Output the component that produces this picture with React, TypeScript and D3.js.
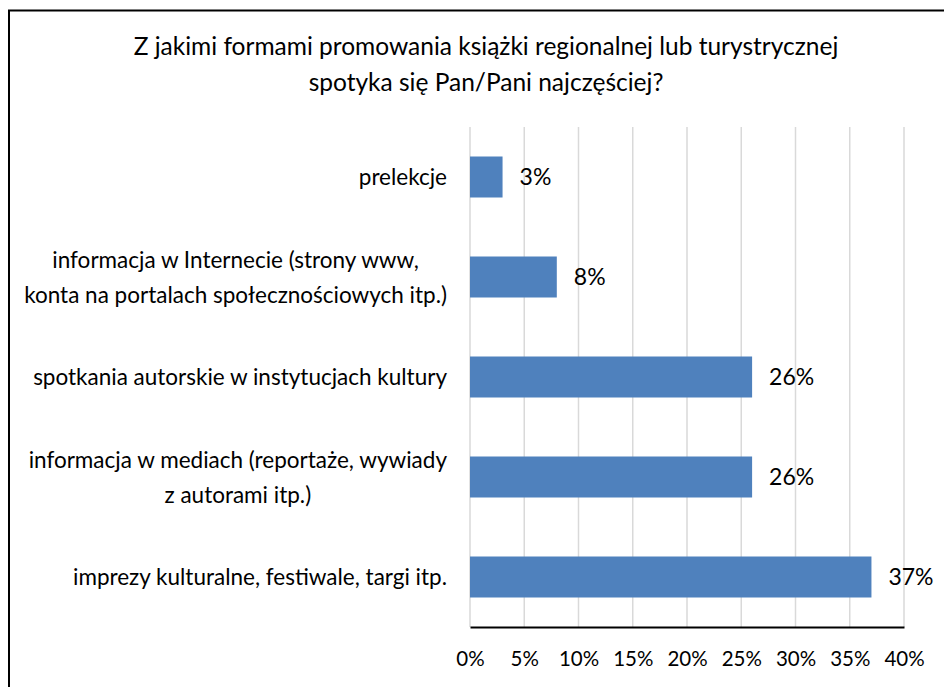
import React, { useEffect, useRef } from 'react';
import * as d3 from 'd3';

const categories = [
  ['prelekcje'],
  ['informacja w Internecie (strony www,', 'konta na portalach społecznościowych itp.)'],
  ['spotkania autorskie w instytucjach kultury'],
  ['informacja w mediach (reportaże, wywiady', 'z autorami itp.)'],
  ['imprezy kulturalne, festiwale, targi itp.']
];
const values = [3, 8, 26, 26, 37];
const ticks = [0, 5, 10, 15, 20, 25, 30, 35, 40];
const titleLines = [
  'Z jakimi formami promowania książki regionalnej lub turystrycznej',
  'spotyka się Pan/Pani najczęściej?'
];

const W = 944;
const H = 687;
const FONT = 'Lato, "Open Sans", sans-serif';

const App = () => {
  const svgRef = useRef<SVGSVGElement>(null);

  useEffect(() => {
    const svg = d3.select(svgRef.current);
    svg.selectAll('*').remove();

    const margin = { top: 127, left: 470, right: 40, bottom: 60 };
    const x = d3.scaleLinear().domain([0, 40]).range([margin.left, W - margin.right]);
    const y = d3
      .scaleBand<number>()
      .domain(d3.range(categories.length))
      .range([margin.top, H - margin.bottom])
      .paddingInner(0.59)
      .paddingOuter(0.295);

    // frame
    svg
      .append('rect')
      .attr('x', 9)
      .attr('y', 10.5)
      .attr('width', W + 20)
      .attr('height', H + 20)
      .attr('fill', 'white')
      .attr('stroke', '#000')
      .attr('stroke-width', 2);

    // title
    svg
      .append('text')
      .attr('font-family', FONT)
      .attr('font-size', 24.5)
      .attr('fill', '#000')
      .attr('text-anchor', 'middle')
      .selectAll('tspan')
      .data(titleLines)
      .enter()
      .append('tspan')
      .attr('x', 486)
      .attr('y', (d, i) => 55 + i * 36)
      .text(d => d);

    // gridlines
    svg
      .append('g')
      .selectAll('line')
      .data(ticks)
      .enter()
      .append('line')
      .attr('x1', d => x(d))
      .attr('x2', d => x(d))
      .attr('y1', margin.top)
      .attr('y2', H - margin.bottom)
      .attr('stroke', '#d9d9d9')
      .attr('stroke-width', 1.5);

    // bars
    svg
      .append('g')
      .selectAll('rect')
      .data(values)
      .enter()
      .append('rect')
      .attr('x', x(0))
      .attr('y', (d, i) => y(i)!)
      .attr('width', d => x(d) - x(0))
      .attr('height', y.bandwidth())
      .attr('fill', '#4f81bd');

    // value labels
    svg
      .append('g')
      .selectAll('text')
      .data(values)
      .enter()
      .append('text')
      .attr('x', d => x(d) + 17)
      .attr('y', (d, i) => y(i)! + y.bandwidth() / 2)
      .attr('dy', '0.36em')
      .attr('font-family', FONT)
      .attr('font-size', 23)
      .attr('fill', '#000')
      .text(d => d + '%');

    // x axis
    const axis = svg
      .append('g')
      .attr('transform', `translate(0, ${H - margin.bottom})`)
      .call(
        d3
          .axisBottom(x)
          .tickValues(ticks)
          .tickSize(0)
          .tickPadding(24)
          .tickFormat(d => d + '%')
      );
    axis.select('.domain').attr('stroke', '#000').attr('stroke-width', 2);
    axis
      .selectAll('text')
      .attr('font-family', FONT)
      .attr('font-size', 20.5)
      .attr('fill', '#000');

    // category labels, each block right-aligned, lines centered within it
    const labelRight = 447;
    const lineH = 35;
    categories.forEach((lines, i) => {
      const g = svg.append('g');
      const cy = y(i)! + y.bandwidth() / 2;
      const texts = g
        .selectAll('text')
        .data(lines)
        .enter()
        .append('text')
        .attr('font-family', FONT)
        .attr('font-size', 22.5)
        .attr('fill', '#000')
        .attr('text-anchor', 'middle')
        .attr('dy', '0.36em')
        .attr('y', (d, j) => cy + (j - (lines.length - 1) / 2) * lineH)
        .text(d => d);
      let maxW = 0;
      texts.each(function () {
        maxW = Math.max(maxW, (this as SVGTextElement).getComputedTextLength());
      });
      texts.attr('x', labelRight - maxW / 2);
    });
  }, []);

  return (
    <svg
      ref={svgRef}
      width={W}
      height={H}
      style={{ position: 'absolute', left: 0, top: 0, background: 'white' }}
    />
  );
};

export default App;
